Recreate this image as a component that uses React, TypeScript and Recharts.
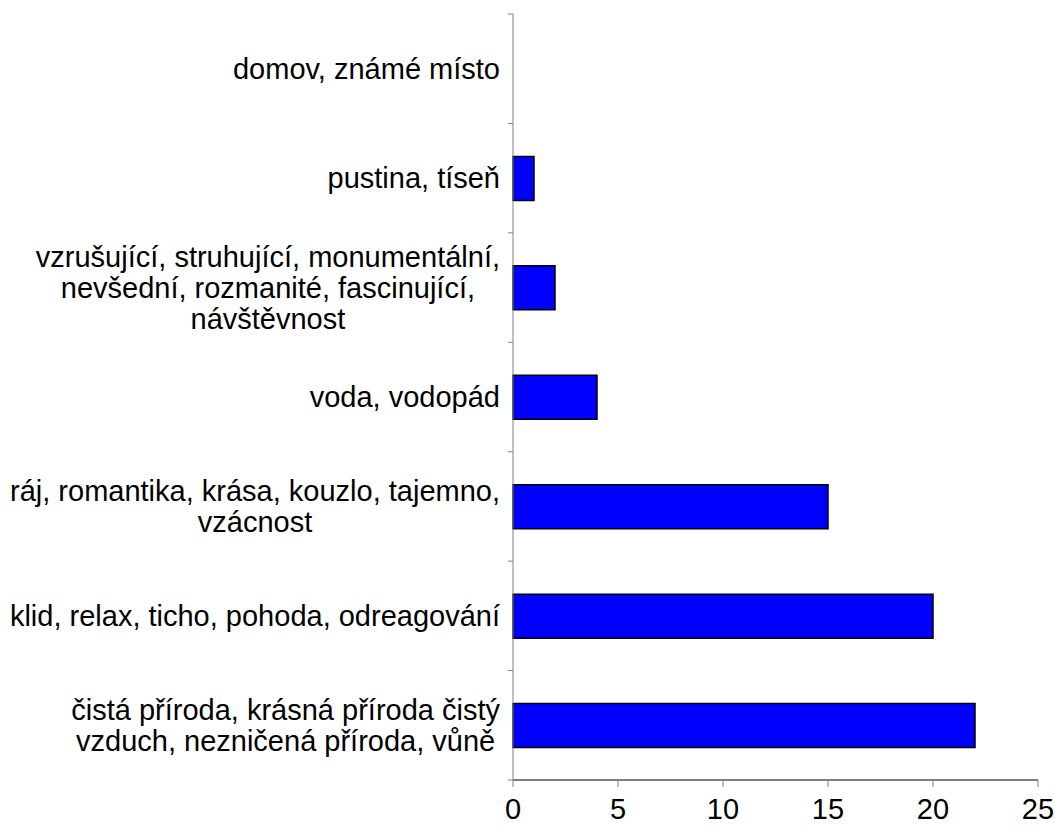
import { Bar, BarChart, XAxis, YAxis } from "recharts";

const categories = [
  "domov, známé místo",
  "pustina, tíseň",
  "vzrušující, struhující, monumentální,\nnevšední, rozmanité, fascinující,\nnávštěvnost",
  "voda, vodopád",
  "ráj, romantika, krása, kouzlo, tajemno,\nvzácnost",
  "klid, relax, ticho, pohoda, odreagování",
  "čistá příroda, krásná příroda čistý\nvzduch, nezničená příroda, vůně",
];

const counts = [0, 1, 2, 4, 15, 20, 22];

const xTicks = [0, 5, 10, 15, 20, 25];

const data = categories.map((name, i) => ({ name, value: counts[i] }));

const FONT = "'Liberation Sans', Arial, sans-serif";
const FONT_SIZE = 29;
const LINE_GAP = 31;
const Y_TICK = 5;
const Y_MARGIN = 8;

let ctx: CanvasRenderingContext2D | null = null;
function measure(text: string) {
  if (!ctx) ctx = document.createElement("canvas").getContext("2d");
  if (!ctx) return text.length * FONT_SIZE * 0.5;
  ctx.font = `${FONT_SIZE}px 'Liberation Sans', Arial, sans-serif`;
  return ctx.measureText(text).width;
}

// category label, plus tick marks on the band edges like Excel draws them
function CategoryTick(props: any) {
  const { x, y, payload, index, visibleTicksCount } = props;
  const half = payload.offset || 109.4 / 2;
  const axisX = x + Y_TICK + Y_MARGIN;
  const lines: string[] = String(payload.value).split("\n");
  const widest = Math.max(...lines.map(measure));
  const cx = x - widest / 2;
  const last = index === (visibleTicksCount ?? categories.length) - 1;
  return (
    <g>
      <line x1={axisX - Y_TICK} x2={axisX} y1={y - half} y2={y - half} stroke="#808080" />
      {last && (
        <line x1={axisX - Y_TICK} x2={axisX} y1={y + half} y2={y + half} stroke="#808080" />
      )}
      {lines.map((line, i) => (
        <text
          key={i}
          x={cx}
          y={y + (i - (lines.length - 1) / 2) * LINE_GAP}
          textAnchor="middle"
          dominantBaseline="central"
          fontFamily={FONT}
          fontSize={FONT_SIZE}
          fill="#000"
        >
          {line}
        </text>
      ))}
    </g>
  );
}

export default function App() {
  return (
    <div style={{ position: "absolute", left: 0, top: 0, background: "#fff" }}>
      <BarChart
        width={1055}
        height={828}
        data={data}
        layout="vertical"
        margin={{ top: 14, right: 17, left: 0, bottom: 0 }}
        barSize={44}
      >
        <XAxis
          type="number"
          domain={[0, 25]}
          ticks={xTicks}
          interval={0}
          height={48}
          axisLine={{ stroke: "#000", strokeWidth: 1 }}
          tickLine={{ stroke: "#808080" }}
          tickSize={7}
          tickMargin={11}
          tick={{ fill: "#000", fontSize: FONT_SIZE, fontFamily: FONT }}
        />
        <YAxis
          type="category"
          dataKey="name"
          width={513}
          interval={0}
          axisLine={{ stroke: "#808080", strokeWidth: 1 }}
          tickLine={false}
          tickSize={Y_TICK}
          tickMargin={Y_MARGIN}
          tick={<CategoryTick />}
        />
        <Bar
          dataKey="value"
          fill="#0000ff"
          stroke="#000"
          strokeWidth={1.5}
          isAnimationActive={false}
        />
      </BarChart>
    </div>
  );
}
